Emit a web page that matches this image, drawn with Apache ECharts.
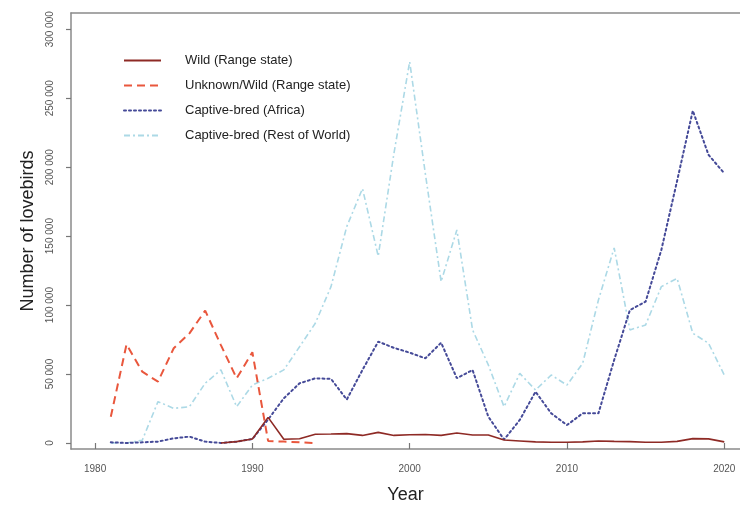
<!DOCTYPE html>
<html>
<head>
<meta charset="utf-8">
<script src="https://cdn.jsdelivr.net/npm/echarts@6/dist/echarts.min.js"></script>
<style>
  html, body { margin: 0; padding: 0; background: #fff; }
  #chart { width: 740px; height: 509px; }
</style>
</head>
<body>
<div id="chart"></div>
<script>
// years 1981 - 2020
const years = []
for (let y = 1981; y <= 2020; y++) years.push(y)

const wild = [null, null, null, null, null, null, null,
  0, 1000, 2900, 18600, 2700, 3100, 6300, 6500, 6800, 5500, 7700, 5500, 6000,
  6200, 5500, 7200, 5800, 5800, 2200, 1500, 800, 500, 500,
  800, 1500, 1200, 1000, 500, 500, 1200, 3200, 3000, 800]

const unknownWild = [19000, 71500, 51700, 44500, 68700, 79500, 96000, 71000, 46900, 65800,
  1500, 1000, 500, 0]

const captiveAfrica = [500, 0, 500, 1000, 3400, 4600, 1000, 0, 1000, 2900,
  17000, 32400, 43300, 46900, 46500, 31500, 53000, 73500, 69000, 65500,
  61400, 72700, 47000, 52900, 19100, 2500, 16700, 37200, 21500, 13000,
  21500, 21500, 60200, 96400, 102500, 140000, 190000, 241000, 208900, 195600]

const captiveRow = [0, 0, 2000, 30000, 25100, 26300, 43300, 53000, 26300, 42000,
  47000, 53000, 69800, 86800, 113400, 156900, 184500, 135500, 210000, 276500,
  195000, 117000, 154500, 82000, 56600, 26300, 50500, 38400, 49300, 42000,
  57800, 103700, 141500, 82000, 85600, 113400, 119400, 79600, 72300, 49300]

const xTicks = [1980, 1990, 2000, 2010, 2020]
const yTicks = [0, 50000, 100000, 150000, 200000, 250000, 300000]

function pairs(vals) {
  return vals.map((v, i) => [years[i], v])
}

const chart = echarts.init(document.getElementById('chart'))
const font = 'Liberation Sans, Arial, sans-serif'
const frame = { color: '#8a8a8a', width: 1.5 }

const option = {
  animation: false,
  grid: {
    left: 71,
    top: 13,
    right: 0,
    bottom: 60
  },
  legend: {
    orient: 'vertical',
    left: 118,
    top: 49,
    itemWidth: 37,
    itemHeight: 14,
    itemGap: 12,
    itemStyle: { opacity: 0 },
    textStyle: {
      fontFamily: font,
      fontSize: 13,
      color: '#222',
      padding: [0, 0, 0, 19]
    },
    data: ['Wild (Range state)', 'Unknown/Wild (Range state)', 'Captive-bred (Africa)', 'Captive-bred (Rest of World)']
  },
  xAxis: [
    {
      type: 'value',
      min: 1978.47,
      max: 2021.0,
      name: 'Year',
      nameLocation: 'middle',
      nameGap: 37,
      nameTextStyle: { fontFamily: font, fontSize: 18, color: '#222' },
      splitLine: { show: false },
      axisLine: { show: true, onZero: false, lineStyle: frame },
      axisTick: {
        inside: true,
        length: 6,
        customValues: xTicks,
        lineStyle: { color: '#777', width: 1.2 }
      },
      axisLabel: {
        customValues: xTicks,
        margin: 15,
        fontFamily: font,
        fontSize: 10,
        color: '#555',
        formatter: v => String(v)
      }
    },
    {
      // top frame line only
      type: 'value',
      position: 'top',
      min: 1978.47,
      max: 2021.0,
      splitLine: { show: false },
      axisLine: { show: true, onZero: false, lineStyle: frame },
      axisTick: { show: false },
      axisLabel: { show: false }
    }
  ],
  yAxis: {
    type: 'value',
    min: -4350,
    max: 311800,
    name: 'Number of lovebirds',
    nameLocation: 'middle',
    nameGap: 34,
    nameTextStyle: { fontFamily: font, fontSize: 18, color: '#222' },
    splitLine: { show: false },
    axisLine: { show: true, onZero: false, lineStyle: frame },
    axisTick: {
      length: 5,
      customValues: yTicks,
      lineStyle: { color: '#777', width: 1.2 }
    },
    axisLabel: {
      customValues: yTicks,
      rotate: 90,
      margin: 16,
      fontFamily: font,
      fontSize: 10,
      color: '#555',
      formatter: v => String(v).replace(/\B(?=(\d{3})+(?!\d))/g, ' ')
    }
  },
  series: [
    {
      name: 'Captive-bred (Rest of World)',
      type: 'line',
      symbol: 'none',
      z: 2,
      lineStyle: { color: '#acd9e6', width: 1.6, type: [6, 3, 2, 3] },
      itemStyle: { color: '#acd9e6' },
      data: pairs(captiveRow)
    },
    {
      name: 'Captive-bred (Africa)',
      type: 'line',
      symbol: 'none',
      z: 3,
      lineStyle: { color: '#454a98', width: 2, type: [2, 3], cap: 'round' },
      itemStyle: { color: '#454a98' },
      data: pairs(captiveAfrica)
    },
    {
      name: 'Unknown/Wild (Range state)',
      type: 'line',
      symbol: 'none',
      z: 4,
      lineStyle: { color: '#e9573d', width: 2, type: [8, 5] },
      itemStyle: { color: '#e9573d' },
      data: pairs(unknownWild)
    },
    {
      name: 'Wild (Range state)',
      type: 'line',
      symbol: 'none',
      z: 5,
      lineStyle: { color: '#8e2a25', width: 1.6 },
      itemStyle: { color: '#8e2a25' },
      data: pairs(wild)
    }
  ]
}

chart.setOption(option)
</script>
</body>
</html>
